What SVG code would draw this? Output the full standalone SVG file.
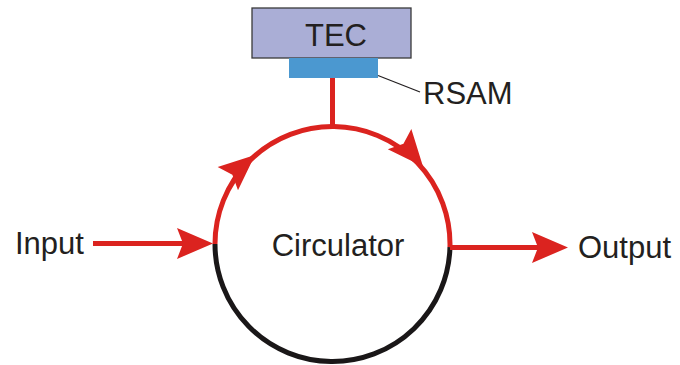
<svg xmlns="http://www.w3.org/2000/svg" width="680" height="365" viewBox="0 0 680 365">
  <style>
    .lbl { font-family: "Liberation Sans", Arial, sans-serif; font-size: 31px; fill: #231f20; }
    .red { stroke: #db231f; fill: none; }
    .head { fill: #db231f; stroke: none; }
  </style>
  <defs>
    <polygon id="ah" points="0,0 -36,-15.5 -30,0 -36,15.5"/>
  </defs>
  <rect width="680" height="365" fill="#ffffff"/>

  <g id="tec">
    <rect x="252" y="8" width="159" height="50" fill="#aaaed6" stroke="#3a3a3a" stroke-width="1.3"/>
    <text class="lbl" x="336" y="46" text-anchor="middle">TEC</text>
  </g>

  <g id="rsam">
    <rect x="289" y="58" width="89" height="20" fill="#4b98d0"/>
    <text class="lbl" x="423" y="104">RSAM</text>
  </g>

  <g id="circulator">
    <path d="M 215 244 A 117.5 117.5 0 1 1 449.96 247.1" class="red" stroke-width="5"/>
    <path d="M 449.96 247.1 A 117.5 117.5 0 0 1 215 244" fill="none" stroke="#1a1718" stroke-width="5"/>
    <use href="#ah" class="head" transform="translate(255,155) rotate(-41)"/>
    <use href="#ah" class="head" transform="translate(423,166.5) rotate(49.4)"/>
    <text class="lbl" x="338" y="256" text-anchor="middle">Circulator</text>
  </g>

  <g id="input">
    <text class="lbl" x="15" y="254">Input</text>
  </g>

  <g id="output">
    <text class="lbl" x="578" y="258">Output</text>
  </g>

  <g id="connectors">
    <line x1="332.5" y1="78" x2="332.5" y2="127" class="red" stroke-width="5"/>
    <line x1="378" y1="75.5" x2="420" y2="92" stroke="#231f20" stroke-width="1.3"/>
    <line x1="93" y1="243.5" x2="185" y2="243.5" class="red" stroke-width="5"/>
    <use href="#ah" class="head" transform="translate(213,243.5)"/>
    <line x1="450" y1="247.5" x2="540" y2="247.5" class="red" stroke-width="5"/>
    <use href="#ah" class="head" transform="translate(568,247.5)"/>
  </g>
</svg>
